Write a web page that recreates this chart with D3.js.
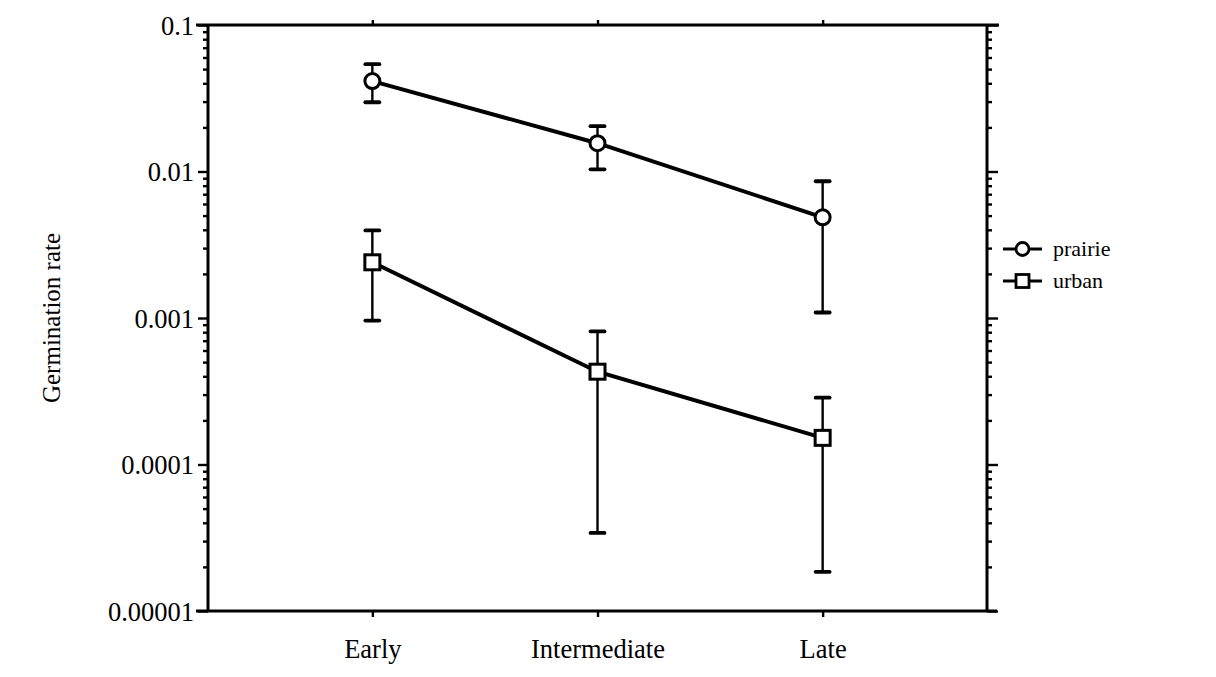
<!DOCTYPE html>
<html>
<head>
<meta charset="utf-8">
<script src="https://cdn.jsdelivr.net/npm/d3@7"></script>
<style>
  body { margin: 0; background: #fff; }
  svg { display: block; font-family: "Liberation Serif", "Times New Roman", serif; }
</style>
</head>
<body>
<div id="chart"></div>
<script>
var width = 1216;
var height = 677;

var stages = ["Early", "Intermediate", "Late"];
var yTicks = [0.1, 0.01, 0.001, 0.0001, 0.00001];
var yTickLabels = ["0.1", "0.01", "0.001", "0.0001", "0.00001"];

var prairieMean = [0.0414, 0.0156, 0.00487];
var prairieHigh = [0.054, 0.0204, 0.00858];
var prairieLow = [0.0297, 0.01035, 0.00109];

var urbanMean = [0.0024, 0.00043, 0.000152];
var urbanHigh = [0.00396, 0.00081, 0.000286];
var urbanLow = [0.00096, 0.0000341, 0.0000185];

var seriesNames = ["prairie", "urban"];
var seriesShapes = ["circle", "square"];

var plotLeft = 208, plotRight = 987, plotTop = 25, plotBottom = 611;

var svg = d3.select("#chart").append("svg")
  .attr("width", width)
  .attr("height", height);

var x = d3.scalePoint().domain(stages).range([plotLeft, plotRight]).padding(0.73);
var y = d3.scaleLog().domain([0.00001, 0.1]).range([plotBottom, plotTop]);

// minor tick values
var minor = [];
for (let e = -5; e < -1; e++) {
  for (let m = 2; m <= 9; m++) minor.push(m * Math.pow(10, e));
}

// left axis
var leftAxis = svg.append("g").attr("transform", `translate(${plotLeft},0)`);
leftAxis.call(d3.axisLeft(y).tickValues(minor).tickSize(5).tickFormat(""));
leftAxis.append("g").call(
  d3.axisLeft(y).tickValues(yTicks).tickSize(10).tickFormat((d, i) => yTickLabels[i])
);

// right axis
var rightAxis = svg.append("g").attr("transform", `translate(${plotRight},0)`);
rightAxis.call(d3.axisRight(y).tickValues(minor).tickSize(5).tickFormat(""));
rightAxis.append("g").call(d3.axisRight(y).tickValues(yTicks).tickSize(11).tickFormat(""));

// bottom and top axes
var bottomAxis = svg.append("g").attr("transform", `translate(0,${plotBottom})`);
bottomAxis.call(d3.axisBottom(x).tickSize(6).tickPadding(22));

var topAxis = svg.append("g").attr("transform", `translate(0,${plotTop})`);
topAxis.call(d3.axisTop(x).tickSize(5).tickFormat(""));

svg.selectAll(".domain").remove();
svg.selectAll(".tick line").attr("stroke", "#000").attr("stroke-width", 2.4);
svg.selectAll(".tick text")
  .attr("fill", "#000")
  .style("font-size", "26.5px")
  .style("font-family", "Liberation Serif");
leftAxis.selectAll(".tick text").attr("x", -14).attr("dy", "0.35em");

// frame
var frame = svg.append("g").attr("stroke", "#000").attr("stroke-width", 3);
frame.append("line").attr("x1", plotLeft - 12).attr("x2", plotRight + 12).attr("y1", plotTop).attr("y2", plotTop);
frame.append("line").attr("x1", plotLeft - 12).attr("x2", plotRight + 10).attr("y1", plotBottom).attr("y2", plotBottom);
frame.append("line").attr("x1", plotLeft).attr("x2", plotLeft).attr("y1", plotTop).attr("y2", plotBottom);
frame.append("line").attr("x1", plotRight).attr("x2", plotRight).attr("y1", plotTop).attr("y2", plotBottom);

// y label
svg.append("text")
  .attr("transform", `translate(60,${(plotTop + plotBottom) / 2}) rotate(-90)`)
  .attr("text-anchor", "middle")
  .style("font-size", "25px")
  .text("Germination rate");

var series = [
  { name: "prairie", shape: "circle", mean: prairieMean, high: prairieHigh, low: prairieLow },
  { name: "urban", shape: "square", mean: urbanMean, high: urbanHigh, low: urbanLow },
];

function drawMarker(g, shape, cx, cy, size, sw) {
  if (shape === "circle") {
    g.append("circle")
      .attr("cx", cx).attr("cy", cy).attr("r", size)
      .attr("fill", "#fff").attr("stroke", "#000").attr("stroke-width", sw);
  } else {
    g.append("rect")
      .attr("x", cx - size).attr("y", cy - size)
      .attr("width", size * 2).attr("height", size * 2)
      .attr("fill", "#fff").attr("stroke", "#000").attr("stroke-width", sw);
  }
}

var line = d3.line().x((d, i) => x(stages[i])).y((d) => y(d));

series.forEach((s) => {
  const g = svg.append("g");

  // error bars
  stages.forEach((st, i) => {
    const cx = x(st);
    g.append("line")
      .attr("x1", cx).attr("x2", cx)
      .attr("y1", y(s.high[i])).attr("y2", y(s.low[i]))
      .attr("stroke", "#000").attr("stroke-width", 2.4);
    [s.high[i], s.low[i]].forEach((v) => {
      g.append("line")
        .attr("x1", cx - 7).attr("x2", cx + 7)
        .attr("y1", y(v)).attr("y2", y(v))
        .attr("stroke", "#000").attr("stroke-width", 3.8)
        .attr("stroke-linecap", "round");
    });
  });

  g.append("path")
    .datum(s.mean)
    .attr("d", line)
    .attr("fill", "none")
    .attr("stroke", "#000")
    .attr("stroke-width", 4);

  stages.forEach((st, i) => {
    drawMarker(g, s.shape, x(st), y(s.mean[i]), 7.5, 3);
  });
});

// legend
var legendY = [249, 281];
series.forEach((s, i) => {
  const g = svg.append("g").attr("transform", `translate(1003,${legendY[i]})`);
  g.append("line")
    .attr("x1", 0).attr("x2", 39).attr("y1", 0).attr("y2", 0)
    .attr("stroke", "#000").attr("stroke-width", 3);
  drawMarker(g, s.shape, 19.5, 0, 6.5, 2.8);
  g.append("text")
    .attr("x", 50)
    .attr("dy", "0.3em")
    .style("font-size", "22px")
    .text(s.name);
});
</script>
</body>
</html>
